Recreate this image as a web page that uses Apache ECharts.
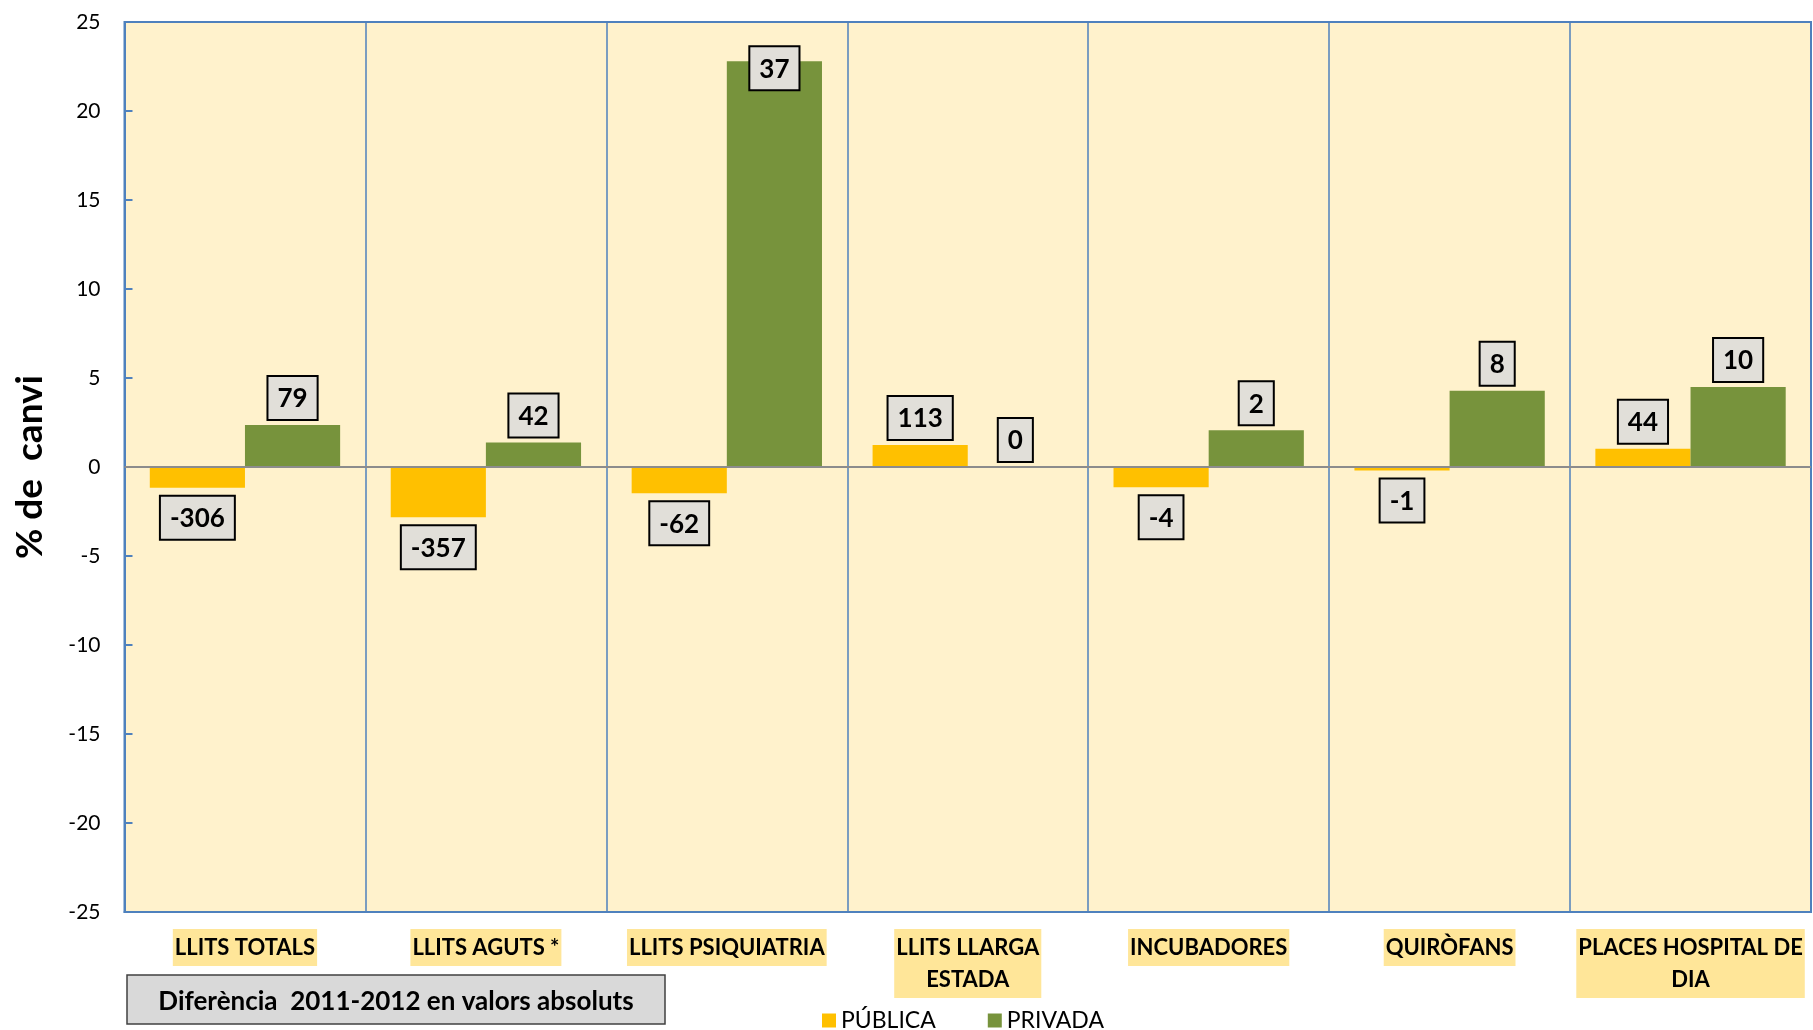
<!DOCTYPE html>
<html>
<head>
<meta charset="utf-8">
<script src="https://cdn.jsdelivr.net/npm/echarts@6/dist/echarts.min.js"></script>
<style>
html,body{margin:0;padding:0;background:#fff;}
#chart{width:1813px;height:1030px;}
</style>
</head>
<body>
<div id="chart"></div>
<script>
const categories = ['LLITS TOTALS', 'LLITS AGUTS *', 'LLITS PSIQUIATRIA', 'LLITS LLARGA\nESTADA', 'INCUBADORES', 'QUIRÒFANS', 'PLACES HOSPITAL DE\nDIA'];
const publicaPct = [-1.16, -2.83, -1.48, 1.24, -1.14, -0.2, 1.03];
const privadaPct = [2.36, 1.37, 22.8, 0, 2.07, 4.29, 4.5];
const publicaAbs = [-306, -357, -62, 113, -4, -1, 44];
const privadaAbs = [79, 42, 37, 0, 2, 8, 10];
const yTicks = { min: -25, max: 25, interval: 5 };
const yTitle = '% de  canvi';
const subtitle = 'Diferència  2011-2012 en valors absoluts';
const seriesNames = ['PÚBLICA', 'PRIVADA'];

const FONT = 'Lato, "Open Sans", sans-serif';
const BLUE = '#4f81bd';

const labelBox = {
  show: true,
  color: '#000',
  fontFamily: FONT,
  fontWeight: 'bold',
  fontSize: 26,
  backgroundColor: '#e1dfd9',
  borderColor: '#000',
  borderWidth: 2,
  padding: [9, 9, 7, 9],
  distance: 6
};

function buildData(vals, absVals) {
  return vals.map((v, i) => {
    let label;
    if (v > yTicks.max - 5) {
      label = Object.assign({}, labelBox, { position: 'insideTop', offset: [0, -20], formatter: String(absVals[i]) });
    } else if (v < 0) {
      label = Object.assign({}, labelBox, { position: 'bottom', distance: 9, formatter: String(absVals[i]) });
    } else {
      label = Object.assign({}, labelBox, { position: 'top', formatter: String(absVals[i]) });
    }
    return { value: v, label: label };
  });
}

const chart = echarts.init(document.getElementById('chart'));
chart.setOption({
  backgroundColor: '#fff',
  animation: false,
  grid: {
    left: 124.5, right: 2, top: 22, bottom: 118,
    show: true, backgroundColor: '#fff2cc', borderColor: BLUE, borderWidth: 2
  },
  legend: {
    left: 817, top: 1004,
    itemWidth: 14, itemHeight: 14, icon: 'rect', itemGap: 52,
    textStyle: { fontFamily: FONT, fontSize: 23, color: '#000' },
    data: seriesNames
  },
  xAxis: {
    type: 'category',
    data: categories,
    axisLine: { onZero: false, lineStyle: { color: BLUE, width: 2 } },
    axisTick: { show: false },
    splitLine: { show: true, interval: 0, lineStyle: { color: BLUE, width: 1.5 } },
    axisLabel: {
      interval: 0, margin: 17,
      fontFamily: FONT, fontWeight: 'bold', fontSize: 22, color: '#000',
      backgroundColor: '#ffe699', padding: [3, 2, 2, 2], lineHeight: 32
    }
  },
  yAxis: {
    type: 'value',
    min: yTicks.min, max: yTicks.max, interval: yTicks.interval,
    name: yTitle, nameLocation: 'middle', nameGap: 76,
    nameTextStyle: { fontFamily: FONT, fontWeight: 'bold', fontSize: 37, color: '#000' },
    axisLine: { show: true, lineStyle: { color: BLUE, width: 2 } },
    axisTick: { show: true, inside: true, length: 8, lineStyle: { color: BLUE, width: 2 } },
    splitLine: { show: false },
    axisLabel: { fontFamily: FONT, fontSize: 21, color: '#000', margin: 24 }
  },
  series: [
    {
      name: seriesNames[0], type: 'bar',
      barGap: '0%', barCategoryGap: '21%',
      itemStyle: { color: '#ffc000' },
      data: buildData(publicaPct, publicaAbs),
      markLine: {
        silent: true, symbol: 'none', label: { show: false },
        lineStyle: { color: '#8c8c8c', width: 2, type: 'solid' },
        data: [{ yAxis: 0 }]
      },
      z: 2
    },
    {
      name: seriesNames[1], type: 'bar',
      barGap: '0%', barCategoryGap: '21%',
      itemStyle: { color: '#77933c' },
      data: buildData(privadaPct, privadaAbs),
      z: 2
    }
  ],
  graphic: [
    {
      type: 'rect', x: 127, y: 975, z: 10,
      shape: { x: 0, y: 0, width: 538, height: 49 },
      style: { fill: '#d9d9d9', stroke: '#404040', lineWidth: 1.5 }
    },
    {
      type: 'text', x: 396, y: 1002, z: 11,
      style: { text: subtitle, font: 'bold 26px ' + FONT, fill: '#000', align: 'center', verticalAlign: 'middle' }
    }
  ]
});
</script>
</body>
</html>
